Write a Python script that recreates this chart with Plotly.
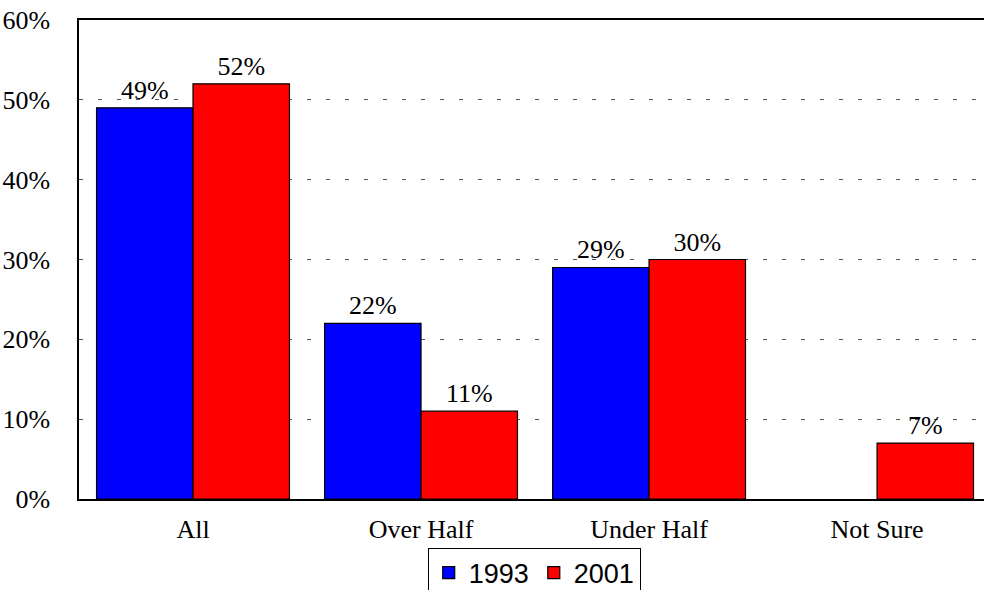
import plotly.graph_objects as go

# Survey answers by category, share of respondents (%)
categories = ["All", "Over Half", "Under Half", "Not Sure"]
values_1993 = [49, 22, 29, None]
values_2001 = [52, 11, 30, 7]
series_names = ["1993", "2001"]
y_ticks = [0, 10, 20, 30, 40, 50, 60]

serif = "Liberation Serif, Times New Roman, serif"
sans = "Liberation Sans, Arial, sans-serif"


def labels(vals):
    return ["" if v is None else f"{v}%" for v in vals]


fig = go.Figure()
for name, vals, color in [(series_names[0], values_1993, "#0000FF"),
                          (series_names[1], values_2001, "#FF0000")]:
    fig.add_trace(go.Bar(
        name=name,
        x=categories,
        y=vals,
        marker=dict(color=color, line=dict(color="black", width=1.2)),
        text=labels(vals),
        textposition="outside",
        textfont=dict(family=serif, size=26, color="black"),
        cliponaxis=False,
    ))

fig.update_layout(
    width=984,
    height=590,
    margin=dict(l=79, r=0, t=20, b=91, autoexpand=False),
    paper_bgcolor="white",
    plot_bgcolor="white",
    barmode="group",
    bargap=0.154,
    bargroupgap=0,
    showlegend=True,
    legend=dict(
        orientation="h",
        x=0.503,
        xanchor="center",
        y=-0.1015,
        yanchor="top",
        font=dict(family=sans, size=27, color="black"),
        bordercolor="black",
        borderwidth=1,
        bgcolor="white",
        itemwidth=30,
        tracegroupgap=0,
    ),
    xaxis=dict(
        range=[-0.5, 3.469],
        showline=True,
        linecolor="black",
        linewidth=1.5,
        mirror=True,
        showgrid=False,
        ticks="",
        tickfont=dict(family=serif, size=26, color="black"),
        ticklabelstandoff=6,
    ),
    yaxis=dict(
        range=[0, 60],
        tickvals=y_ticks,
        ticktext=[f"{t}%" for t in y_ticks],
        showline=True,
        linecolor="black",
        linewidth=1.5,
        showgrid=True,
        gridcolor="#555555",
        gridwidth=1,
        griddash="4px,15px",
        zeroline=False,
        ticks="",
        tickfont=dict(family=serif, size=26, color="black"),
        ticklabelstandoff=22,
    ),
)

fig.write_html("out.html")
